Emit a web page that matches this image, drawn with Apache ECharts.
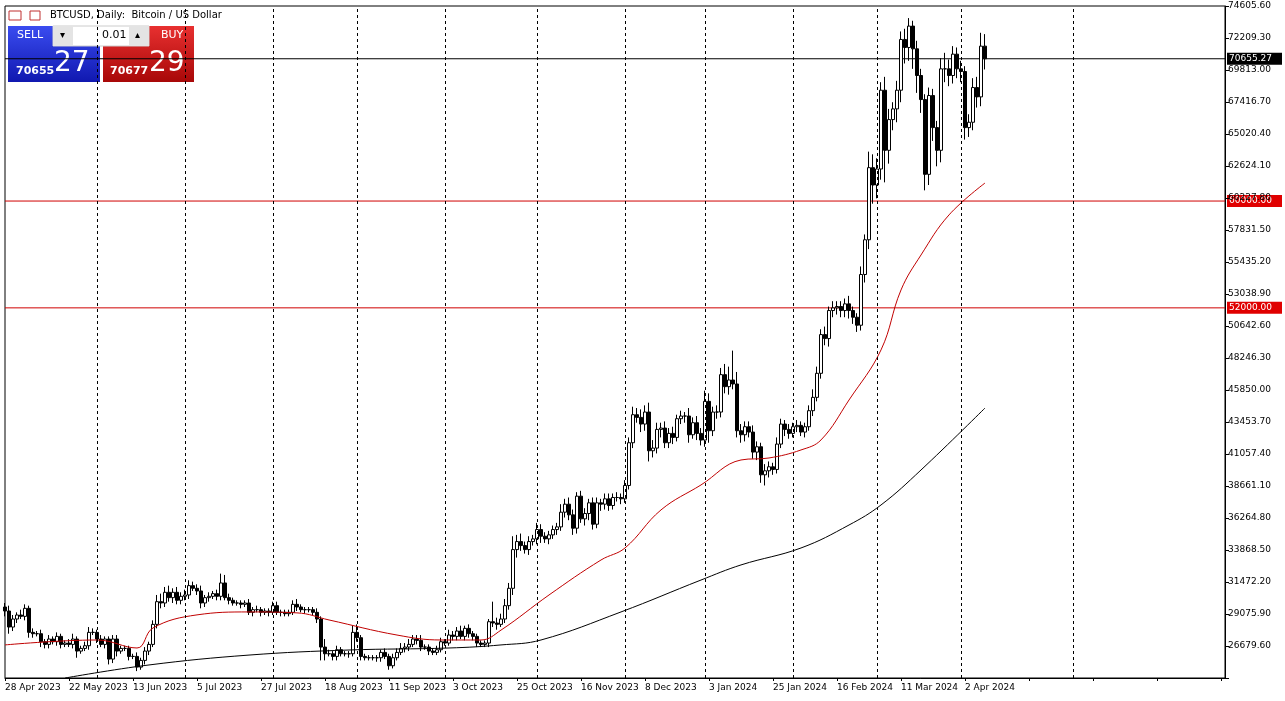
<!DOCTYPE html>
<html><head><meta charset="utf-8">
<script src="https://cdn.jsdelivr.net/npm/echarts@6/dist/echarts.min.js"></script>
<style>html,body{margin:0;padding:0;background:#fff}#c{width:1285px;height:701px}</style>
</head><body><div id="c"></div>
<script>
// closes in thousands USD, weekdays from 28 Apr 2023 (broker skips 25 Dec, 1 Jan)
const closes = [29.3,
28.1,28.7,29.0,28.9,29.5, 27.7,27.6,27.6,27.0,26.8, 27.2,27.0,27.4,26.8,26.9, 26.8,27.2,26.3,26.5,26.7,
27.7,27.7,27.2,26.8,27.2, 25.7,27.2,26.3,26.5,26.5, 25.9,25.9,25.1,25.6,26.3, 26.8,28.3,30.0,29.9,30.7,
30.3,30.7,30.1,30.4,30.5, 31.2,31.0,30.8,29.9,30.3, 30.4,30.6,30.4,31.4,30.3, 30.1,29.9,29.9,29.8,29.9,
29.2,29.4,29.4,29.2,29.3, 29.2,29.7,29.2,29.2,29.1, 29.2,29.8,29.6,29.4,29.4, 29.4,29.2,28.7,26.6,26.1,
26.1,25.9,26.4,26.1,26.1, 26.1,27.7,27.3,25.9,25.8, 25.8,25.8,25.8,26.2,25.9, 25.2,25.8,26.2,26.5,26.6,
26.8,27.2,27.1,26.6,26.6, 26.3,26.2,26.4,27.0,26.9, 27.5,27.4,27.8,27.4,28.0, 27.6,27.4,26.9,26.8,26.9,
28.5,28.4,28.3,28.7,29.7, 31.0,33.9,34.5,34.2,33.9, 34.5,34.7,35.4,34.9,34.7, 35.0,35.4,35.6,36.7,37.3,
36.5,35.5,37.9,36.2,36.6, 37.4,35.8,37.4,37.3,37.7, 37.2,37.8,37.8,37.7,38.7, 41.9,44.0,43.8,43.3,44.2,
41.3,41.5,42.9,43.0,41.9, 42.6,42.3,43.7,43.9,43.9, 42.5,43.4,42.6,42.1, 45.0,42.8,44.2,44.2,
47.0,46.1,46.6,46.3,42.8, 42.5,43.1,42.7,41.2,41.6, 39.5,39.8,40.1,39.9,41.8, 43.3,42.9,42.6,43.1,43.2,
42.7,43.1,44.3,45.3,47.1, 50.0,49.7,51.8,52.0,52.1, 51.8,52.3,51.8,51.3,50.7, 54.5,57.1,62.5,61.2,62.4,
68.3,63.8,66.1,66.9,68.3, 72.1,71.5,73.1,71.4,69.4, 67.6,62.0,67.9,65.5,63.8, 69.9,69.9,69.4,71.0,69.9,
69.7,65.5,65.9,68.5,67.8, 71.6,70.655];
const upWick = [0.3,
0.4,0.3,0.2,0.4,0.3, 0.2,0.3,0.2,0.3,0.2, 0.3,0.2,0.3,0.2,0.2, 0.3,0.4,0.2,0.2,0.3,
0.4,0.3,0.2,0.3,0.2, 0.2,0.3,0.3,0.2,0.2, 0.2,0.2,0.3,0.2,0.3, 0.2,0.3,0.5,0.6,0.4,
0.5,0.3,0.4,0.3,0.4, 0.4,0.3,0.3,0.4,0.2, 0.3,0.2,0.3,0.7,0.6, 0.3,0.2,0.2,0.2,0.2,
0.3,0.2,0.3,0.2,0.2, 0.2,0.3,0.3,0.2,0.2, 0.2,0.3,0.4,0.2,0.2, 0.2,0.2,0.3,0.2,0.6,
0.3,0.2,0.3,0.2,0.2, 0.2,0.5,0.6,0.2,0.2, 0.2,0.2,0.2,0.2,0.3, 0.2,0.3,0.3,0.4,0.3,
0.4,0.3,0.3,0.4,0.2, 0.2,0.2,0.3,0.3,0.2, 0.4,0.3,0.3,0.4,0.2, 0.3,0.2,0.2,0.2,0.2,
0.2,1.5,0.4,0.4,0.5, 0.4,1.0,0.5,0.6,0.3, 0.4,0.3,0.5,0.4,0.3, 0.3,0.3,0.3,0.6,0.4,
0.5,0.4,0.3,0.4,0.4, 0.3,0.4,0.4,0.3,0.4, 0.4,0.3,0.4,0.3,0.4, 0.4,0.6,0.5,0.6,0.5,
0.7,0.6,0.5,0.4,0.5, 0.4,0.5,0.3,0.4,0.3, 0.6,0.4,0.5,0.4, 0.8,0.6,0.4,0.5,
0.5,0.8,1.0,2.2,0.9, 0.5,0.4,0.4,0.5,0.4, 0.3,0.5,0.4,0.3,0.5, 0.4,0.3,0.4,0.3,0.4,
0.3,0.3,0.4,0.6,0.5, 0.4,0.6,0.3,0.5,0.4, 0.4,0.4,0.6,0.3,0.3, 0.6,0.4,1.2,1.0,0.8,
0.6,1.0,0.8,0.5,0.7, 0.6,0.8,0.6,0.4,0.6, 0.5,0.4,0.6,0.5,0.5, 0.8,1.2,0.7,0.6,0.5,
0.6,0.4,0.6,0.7,0.8, 1.0,0.9];
const dnWick = [0.4,
0.5,0.3,0.3,0.2,0.3, 0.4,0.3,0.2,0.4,0.3, 0.3,0.2,0.3,0.3,0.2, 0.2,0.3,0.5,0.2,0.2,
0.3,0.2,0.3,0.2,0.3, 0.4,0.3,0.4,0.2,0.2, 0.3,0.2,0.3,0.2,0.3, 0.3,0.2,0.3,0.4,0.3,
0.3,0.4,0.3,0.3,0.3, 0.3,0.2,0.3,0.4,0.3, 0.3,0.2,0.3,0.3,0.2, 0.3,0.2,0.2,0.3,0.2,
0.2,0.3,0.2,0.3,0.2, 0.3,0.2,0.2,0.3,0.2, 0.2,0.2,0.3,0.2,0.3, 0.2,0.2,0.3,1.0,0.5,
0.2,0.3,0.3,0.2,0.2, 0.3,0.2,0.3,0.3,0.2, 0.2,0.2,0.3,0.3,0.2, 0.3,0.2,0.2,0.2,0.3,
0.3,0.2,0.3,0.3,0.2, 0.3,0.2,0.2,0.2,0.2, 0.2,0.3,0.3,0.2,0.3, 0.3,0.3,0.3,0.2,0.2,
0.3,0.3,0.4,0.2,0.3, 0.3,0.5,0.6,0.4,0.3, 0.4,0.3,0.4,0.5,0.3, 0.4,0.3,0.4,0.3,0.4,
0.4,0.5,0.4,0.3,0.5, 0.5,0.4,0.3,0.5,0.4, 0.4,0.3,0.3,0.4,0.3, 0.3,0.4,0.4,0.6,0.5,
0.8,0.5,0.4,0.6,0.4, 0.4,0.5,0.3,0.4,0.5, 0.6,0.3,0.5,0.4, 0.5,0.9,0.4,0.5,
0.4,0.5,0.6,0.4,0.5, 0.6,0.5,0.4,0.5,0.6, 0.6,0.8,0.5,0.4,0.3, 0.3,0.5,0.4,0.3,0.4,
0.3,0.4,0.3,0.4,0.3, 0.4,0.5,0.6,0.5,0.5, 0.5,0.5,0.6,0.5,0.5, 0.4,0.6,0.7,1.4,1.0,
0.8,2.4,1.0,0.8,1.0, 0.9,1.2,1.0,1.5,1.3, 1.0,1.2,0.8,1.0,1.2, 0.9,1.0,0.8,0.6,0.7,
0.8,0.9,0.7,0.6,0.8, 0.7,0.8];
const tickLabels = ['28 Apr 2023','22 May 2023','13 Jun 2023','5 Jul 2023','27 Jul 2023','18 Aug 2023','11 Sep 2023','3 Oct 2023','25 Oct 2023','16 Nov 2023','8 Dec 2023','3 Jan 2024','25 Jan 2024','16 Feb 2024','11 Mar 2024','2 Apr 2024'];
// moving averages: [bar index, price in thousands]
const ma50 = [[0,26.76],[23,27.13],[33,26.53],[37,28.03],[48,29.01],[61,29.23],[73,29.16],[81,28.63],[98,27.5],[109,27.13],[119,27.13],[124,27.87],[136,30.5],[149,33.12],[155,34.02],[164,36.87],[174,38.74],[184,40.61],[191,40.76],[199,41.36],[204,42.11],[211,45.1],[219,48.85],[224,53.34],[229,55.96],[236,58.96],[245,61.35]];
const ma200 = [[15,24.28],[36,25.26],[61,26.0],[86,26.38],[111,26.53],[124,26.76],[134,27.13],[154,29.23],[174,31.62],[184,32.75],[199,34.02],[211,35.74],[219,37.24],[229,39.86],[245,44.5]];
const gridBars = [23,45,67,88,110,133,155,175,197,218,239,267];
const hLines = {bid:70655.27, r1:60000, r2:52000};
const totalBars = 306;

const cats = []; for (let i=0;i<totalBars;i++) cats.push(String(i));
const ohlc = closes.map((c,i)=>{
  const o = i===0 ? 29.6 : closes[i-1];
  const hi = Math.max(o,c)+upWick[i], lo = Math.min(o,c)-dnWick[i];
  return [o*1000, c*1000, lo*1000, hi*1000];
});
const chart = echarts.init(document.getElementById('c'));
const FONT = 'DejaVu Sans';
const yMin = 24283.3, yStep = 2396.3, yMax = 74605.6;
function hline(v,color){
  return {type:'line',data:[[0,v],[totalBars-1,v]],showSymbol:false,silent:true,
    lineStyle:{color:color,width:1},itemStyle:{color:color},z:1};
}
chart.setOption({
  animation:false,
  grid:{left:5,right:60,top:6,bottom:23,show:true,borderColor:'#000',borderWidth:1},
  xAxis:{type:'category',data:cats,boundaryGap:false,
    axisLine:{lineStyle:{color:'#000'}},axisTick:{show:true,length:3,lineStyle:{color:'#000'},interval:(i)=>i%16===0},
    axisLabel:{interval:(i)=>i%16===0 && i/16<tickLabels.length,formatter:(v,i)=>tickLabels[i/16]||'',align:'left',margin:5,color:'#000',fontFamily:FONT,fontSize:9},
    splitLine:{show:false}},
  yAxis:{type:'value',position:'right',min:yMin,max:yMax,interval:yStep,scale:true,
    axisLine:{show:true,lineStyle:{color:'#000'}},axisTick:{show:true,length:4,lineStyle:{color:'#000'}},
    axisLabel:{color:'#000',fontFamily:FONT,fontSize:9,margin:3,formatter:(v)=>v<yMin+1?'':v.toFixed(2)},
    splitLine:{show:false}},
  series:[
    {type:'candlestick',data:ohlc,barWidth:3,
     itemStyle:{color:'#fff',color0:'#000',borderColor:'#000',borderColor0:'#000',borderWidth:1},
     markLine:{silent:true,symbol:'none',label:{show:false},lineStyle:{color:'#000',type:[3,3],width:1},
       data:gridBars.map(b=>({xAxis:b}))}},
    hline(hLines.bid,'#000'),
    hline(hLines.r1,'#d00000'),
    hline(hLines.r2,'#d00000'),
    {type:'line',data:ma50.map(p=>[p[0],p[1]*1000]),smooth:0.4,showSymbol:false,lineStyle:{color:'#c00000',width:1}},
    {type:'line',data:ma200.map(p=>[p[0],p[1]*1000]),smooth:0.4,showSymbol:false,lineStyle:{color:'#000',width:1}}
  ]
});
function tag(val,bg,fg){
  const y = chart.convertToPixel({yAxisIndex:0},val);
  return {type:'group',x:1227,y:y-6,children:[
    {type:'rect',shape:{x:0,y:0,width:55,height:12},style:{fill:bg}},
    {type:'text',x:2,y:1,style:{text:val.toFixed(2),fill:fg,font:'9px '+FONT}}]};
}
chart.setOption({graphic:[
  {type:'rect',shape:{x:9,y:11,width:12,height:9},style:{fill:'#fff',stroke:'#c03030'}},
  {type:'rect',shape:{x:30,y:11,width:10,height:9},style:{fill:'#fff',stroke:'#c03030'}},
  {type:'text',x:50,y:10,style:{text:'BTCUSD, Daily:  Bitcoin / US Dollar',fill:'#000',font:'10px '+FONT}},
  {type:'rect',shape:{x:8,y:26,width:92,height:56},style:{fill:new echarts.graphic.LinearGradient(0,0,0,1,[{offset:0,color:'#3a4cf0'},{offset:1,color:'#1018b0'}])}},
  {type:'rect',shape:{x:103,y:26,width:91,height:56},style:{fill:new echarts.graphic.LinearGradient(0,0,0,1,[{offset:0,color:'#e83030'},{offset:1,color:'#a80808'}])}},
  {type:'rect',shape:{x:53,y:26,width:96,height:20},style:{fill:'#fff',stroke:'#ccc'}},
  {type:'rect',shape:{x:53,y:26,width:20,height:20},style:{fill:'#e4e4e4'}},
  {type:'rect',shape:{x:129,y:26,width:20,height:20},style:{fill:'#e4e4e4'}},
  {type:'text',x:60,y:30,style:{text:'▾',fill:'#000',font:'10px '+FONT}},
  {type:'text',x:135,y:30,style:{text:'▴',fill:'#000',font:'10px '+FONT}},
  {type:'text',x:102,y:30,style:{text:'0.01',fill:'#000',font:'11px '+FONT}},
  {type:'text',x:17,y:30,style:{text:'SELL',fill:'#fff',font:'11px '+FONT}},
  {type:'text',x:161,y:30,style:{text:'BUY',fill:'#fff',font:'11px '+FONT}},
  {type:'text',x:16,y:66,style:{text:'70655',fill:'#fff',font:'bold 11px '+FONT}},
  {type:'text',x:54,y:50,style:{text:'27',fill:'#fff',font:'28px '+FONT}},
  {type:'text',x:110,y:66,style:{text:'70677',fill:'#fff',font:'bold 11px '+FONT}},
  {type:'text',x:149,y:50,style:{text:'29',fill:'#fff',font:'28px '+FONT}},
  tag(hLines.bid,'#000','#fff'),
  tag(hLines.r1,'#e00000','#fff'),
  tag(hLines.r2,'#e00000','#fff')
]});
</script></body></html>
